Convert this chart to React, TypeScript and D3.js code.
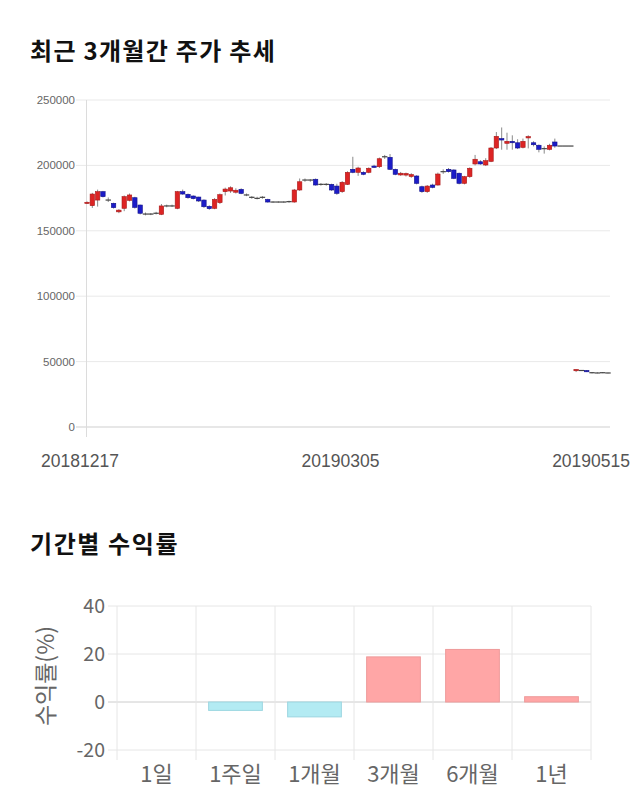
import React from "react";
import * as d3 from "d3";

const W = 640;
const H = 810;

// ---- Candle data (price, KRW) ----
const opens = [
  171500, 169200, 173500, 179900, 173500, 171000, 164500, 167200, 173300, 175300,
  169700, 162800, 162800, 163400, 162600, 169000, 169000, 167200, 179900, 177900,
  176600, 175800, 173500, 168700, 167200, 171500, 179900, 180400, 179500, 181700,
  177400, 175600, 174800, 175600, 174000, 172000, 172000, 172000, 172300, 172000,
  181200, 188800, 188800, 189400, 185500, 185500, 185500, 184200, 179900, 185500,
  197000, 194700, 194700, 194700, 199500, 199000, 206600, 206200, 197000, 192700,
  192600, 191500, 191900, 183700, 179900, 185000, 185000, 195200, 197000, 196500,
  194000, 186300, 191400, 201100, 202800, 200300, 203100, 213300, 220500, 216900,
  218400, 217300, 213800, 221000, 217300, 215400, 212800, 212300, 217900, 214800,
  214800, 214800, 43000, 43200, 43200, 41500, 41300, 41500, 41300,
];
const highs = [
  172500, 179000, 181500, 180500, 175500, 171500, 166500, 177000, 178500, 176000,
  170000, 164000, 163500, 164500, 170500, 170000, 170000, 180500, 181500, 178500,
  177000, 176000, 174000, 169500, 175000, 178500, 183000, 184000, 182500, 182500,
  178500, 176500, 176000, 176500, 174500, 172500, 172500, 172500, 173000, 182000,
  190000, 190000, 189500, 190000, 186500, 186500, 186000, 186000, 188000, 195500,
  206600, 199000, 195500, 198500, 200500, 206000, 208000, 208700, 197500, 195000,
  194500, 194000, 192500, 184500, 185000, 186000, 194500, 197000, 198000, 197000,
  194500, 192000, 198500, 208000, 204000, 205500, 214000, 225500, 229000, 225000,
  223000, 220000, 220500, 223000, 218500, 216000, 214500, 216500, 220500, 214800,
  214800, 214800, 44000, 43500, 43500, 42000, 41800, 42000, 41500,
];
const lows = [
  170500, 167500, 168500, 175500, 172000, 167000, 163500, 165000, 172500, 167000,
  162500, 161800, 162000, 162500, 162000, 168000, 168200, 166500, 177500, 174500,
  174000, 172000, 167500, 166000, 166500, 170500, 177000, 179000, 178500, 178000,
  176500, 174500, 174000, 174500, 171500, 171500, 171500, 171500, 171500, 171500,
  180500, 187500, 187500, 184500, 184500, 184500, 180500, 177500, 179000, 185000,
  194000, 192000, 192500, 194000, 198000, 198000, 205000, 196500, 192500, 192000,
  191500, 190500, 185500, 179000, 179000, 182500, 184500, 193500, 194500, 189500,
  185500, 185500, 190500, 200000, 200500, 199500, 202500, 212500, 212000, 212000,
  212000, 212500, 213000, 213000, 214500, 210000, 209000, 211500, 213500, 214800,
  214800, 214800, 42000, 42800, 42000, 41000, 41000, 41200, 41000,
];
const closes = [
  171800, 178100, 179900, 176100, 173500, 167700, 165800, 176100, 177400, 167900,
  163400, 162800, 162800, 163400, 169000, 169000, 169000, 179900, 178100, 175300,
  174600, 172800, 168400, 166900, 174000, 177600, 181900, 182900, 181000, 178600,
  177400, 175600, 174800, 175600, 172000, 172000, 172000, 172000, 172300, 181200,
  187500, 188800, 188800, 185000, 185500, 185500, 181200, 178600, 187100, 194700,
  194700, 198000, 193200, 197800, 198500, 205100, 206600, 197000, 193200, 194000,
  193800, 193000, 186300, 179900, 184200, 183200, 193400, 195200, 195200, 190100,
  186300, 191400, 197800, 204700, 201100, 203600, 213300, 222200, 219400, 218400,
  217300, 213300, 218400, 222000, 215800, 212300, 212800, 215400, 214800, 214800,
  214800, 214800, 44000, 43200, 42200, 41500, 41300, 41500, 41300,
];
const priceTicks = [0, 50000, 100000, 150000, 200000, 250000];
const dateLabels = ["20181217", "20190305", "20190515"];
const dateLabelIdx = [0, 49, 98];

// ---- Returns data ----
const periods = ["1일", "1주일", "1개월", "3개월", "6개월", "1년"];
const returns = [0, -3.5, -6.2, 18.8, 21.9, 2.2];
const returnTicks = [-20, 0, 20, 40];

const RED = "#dd2424";
const RED_S = "#a81818";
const BLUE = "#1c1cc8";
const BLUE_S = "#10108a";

export default function App() {
  const idx = opens.map((_, i) => i);
  const x = d3.scalePoint<number>().domain(idx).range([87, 608]);
  const y = d3.scaleLinear().domain([0, 250000]).range([427, 100]);

  const bx = d3.scaleBand<string>().domain(periods).range([117, 591]).paddingInner(0.32).paddingOuter(0.16);
  const by = d3.scaleLinear().domain([-20, 40]).range([750, 606]);
  const step = bx.step();
  const bandStart = (p: string) => (bx(p) as number) - step * bx.paddingInner() / 2;

  const bodyW = 4.4;

  return (
    <div style={{ position: "absolute", left: 0, top: 0 }}>
      <svg width={W} height={H} style={{ display: "block", background: "#fff" }}>
        {/* Title 1 */}
        <text x={30} y={60} fontFamily="'Noto Sans CJK KR'" fontWeight={700} fontSize={24} letterSpacing={1.3} fill="#111">
          최근 3개월간 주가 추세
        </text>

        {/* price grid */}
        {priceTicks.map((t) => (
          <g key={"pt" + t}>
            <line x1={76} x2={610} y1={y(t)} y2={y(t)} stroke={t === 0 ? "#cfcfcf" : "#e9e9e9"} strokeWidth={1} />
            <text x={75} y={y(t) + 4} textAnchor="end" fontFamily="'Liberation Sans', Arial" fontSize={11.5} fill="#666">
              {t}
            </text>
          </g>
        ))}
        <line x1={86.5} x2={86.5} y1={100} y2={437} stroke="#dcdcdc" />

        {/* candles */}
        {idx.map((i) => {
          const o = opens[i], c = closes[i], h = highs[i], l = lows[i];
          const cx = x(i) as number;
          const up = c > o;
          const down = c < o;
          const top = y(Math.max(o, c));
          const bot = y(Math.min(o, c));
          return (
            <g key={"c" + i}>
              <line x1={cx} x2={cx} y1={y(h)} y2={y(l)} stroke="#8a8a8a" strokeWidth={1} />
              {up || down ? (
                <rect
                  x={cx - bodyW / 2}
                  y={top}
                  width={bodyW}
                  height={Math.max(bot - top, 1.2)}
                  fill={up ? RED : BLUE}
                  stroke={up ? RED_S : BLUE_S}
                  strokeWidth={0.6}
                />
              ) : (
                <line x1={cx - bodyW / 2 - 0.5} x2={cx + bodyW / 2 + 0.5} y1={top} y2={top} stroke="#444" strokeWidth={1.2} />
              )}
            </g>
          );
        })}

        {/* date labels */}
        {dateLabelIdx.map((di, k) => {
          const px = x(di) as number;
          const last = k === dateLabels.length - 1;
          return (
            <text
              key={"dl" + k}
              x={last ? W - 10 : px - 7}
              y={467}
              textAnchor={last ? "end" : "middle"}
              fontFamily="'Liberation Sans', Arial"
              fontSize={17.5}
              fill="#555"
            >
              {dateLabels[k]}
            </text>
          );
        })}

        {/* Title 2 */}
        <text x={30} y={553} fontFamily="'Noto Sans CJK KR'" fontWeight={700} fontSize={24} letterSpacing={1.6} fill="#111">
          기간별 수익률
        </text>

        {/* returns grid */}
        {returnTicks.map((t) => (
          <g key={"rt" + t}>
            <line x1={108} x2={591} y1={by(t)} y2={by(t)} stroke={t === 0 ? "#cccccc" : "#e6e6e6"} />
            <text x={105} y={by(t) + 7} textAnchor="end" fontFamily="'Noto Sans CJK KR'" fontSize={19.5} fill="#666">
              {t}
            </text>
          </g>
        ))}
        {periods.map((p) => (
          <line key={"vg" + p} x1={bandStart(p)} x2={bandStart(p)} y1={606} y2={760} stroke="#e6e6e6" />
        ))}
        <line x1={591} x2={591} y1={606} y2={760} stroke="#e6e6e6" />

        {/* bars */}
        {periods.map((p, i) => {
          const v = returns[i];
          if (v === 0) return null;
          const y0 = by(0), y1 = by(v);
          return (
            <rect
              key={"b" + p}
              x={bx(p)}
              y={Math.min(y0, y1)}
              width={bx.bandwidth()}
              height={Math.abs(y1 - y0)}
              fill={v > 0 ? "#ffa6a6" : "#b3ebf3"}
              stroke={v > 0 ? "#ee9a9a" : "#9cd6e0"}
              strokeWidth={1}
            />
          );
        })}

        {/* period labels */}
        {periods.map((p) => (
          <text
            key={"pl" + p}
            x={(bx(p) as number) + bx.bandwidth() / 2}
            y={782}
            textAnchor="middle"
            fontFamily="'Noto Sans CJK KR'"
            fontSize={22}
            fill="#666"
          >
            {p}
          </text>
        ))}

        {/* y title */}
        <text
          transform={`translate(54, ${by(10) - 2}) rotate(-90)`}
          textAnchor="middle"
          fontFamily="'Noto Sans CJK KR'"
          fontSize={23}
          fill="#666"
        >
          수익률(%)
        </text>
      </svg>
    </div>
  );
}
